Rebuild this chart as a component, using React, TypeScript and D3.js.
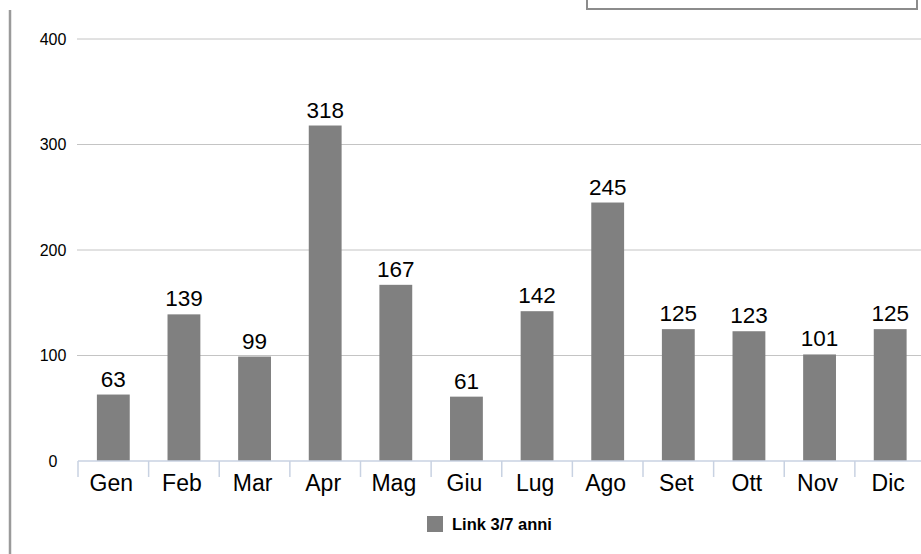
import * as d3 from 'd3';

const months = ['Gen', 'Feb', 'Mar', 'Apr', 'Mag', 'Giu', 'Lug', 'Ago', 'Set', 'Ott', 'Nov', 'Dic'];
const links = [63, 139, 99, 318, 167, 61, 142, 245, 125, 123, 101, 125];
const yTicks = [0, 100, 200, 300, 400];
const seriesName = 'Link 3/7 anni';

const W = 921;
const H = 554;
const font = 'Arial, "Liberation Sans", Helvetica, sans-serif';

export default function App() {
  const x = d3.scaleBand<string>().domain(months).range([78, 925.5]).padding(0);
  const y = d3.scaleLinear().domain([0, 400]).range([461, 39]);
  const barW = x.bandwidth() * 0.465;

  return (
    <svg width={W} height={H} style={{ position: 'absolute', left: 0, top: 0 }} fontFamily={font}>
      <rect width={W} height={H} fill="#fff" />

      {/* left frame line and clipped box top-right */}
      <line x1={10} x2={10} y1={10} y2={H} stroke="#9a9a9a" strokeWidth={2.5} />
      <rect x={587} y={-10} width={330} height={19} fill="#fff" stroke="#8c8c8c" strokeWidth={2} />

      {/* grid */}
      {yTicks.filter((t) => t > 0).map((t) => (
        <line key={t} x1={77} x2={W} y1={y(t)} y2={y(t)} stroke="#c4c4c4" strokeWidth={1} />
      ))}
      {yTicks.map((t) => (
        <text key={t} x={53} y={y(t)} dy="0.35em" textAnchor="middle" fontSize={16} fill="#000">
          {t}
        </text>
      ))}

      {/* bars */}
      {months.map((m, i) => {
        const cx = (x(m) ?? 0) + x.bandwidth() / 2;
        return (
          <g key={m}>
            <rect x={cx - barW / 2} y={y(links[i])} width={barW} height={y(0) - y(links[i])} fill="#808080" />
            <text x={cx} y={y(links[i]) - 8} textAnchor="middle" fontSize={22.5} fill="#000">
              {links[i]}
            </text>
            <text x={cx - 2} y={491} textAnchor="middle" fontSize={23} fill="#000">
              {m}
            </text>
          </g>
        );
      })}

      {/* x axis */}
      <line x1={78} x2={W} y1={y(0)} y2={y(0)} stroke="#c8d2e2" strokeWidth={1.5} />
      {months.map((m) => (
        <line key={m} x1={x(m)} x2={x(m)} y1={y(0)} y2={477} stroke="#c8d2e2" strokeWidth={1.5} />
      ))}

      {/* legend */}
      <rect x={427} y={516} width={16} height={16} fill="#808080" />
      <text x={452} y={530} fontSize={16.5} fontWeight="bold" fill="#000">
        {seriesName}
      </text>
    </svg>
  );
}
